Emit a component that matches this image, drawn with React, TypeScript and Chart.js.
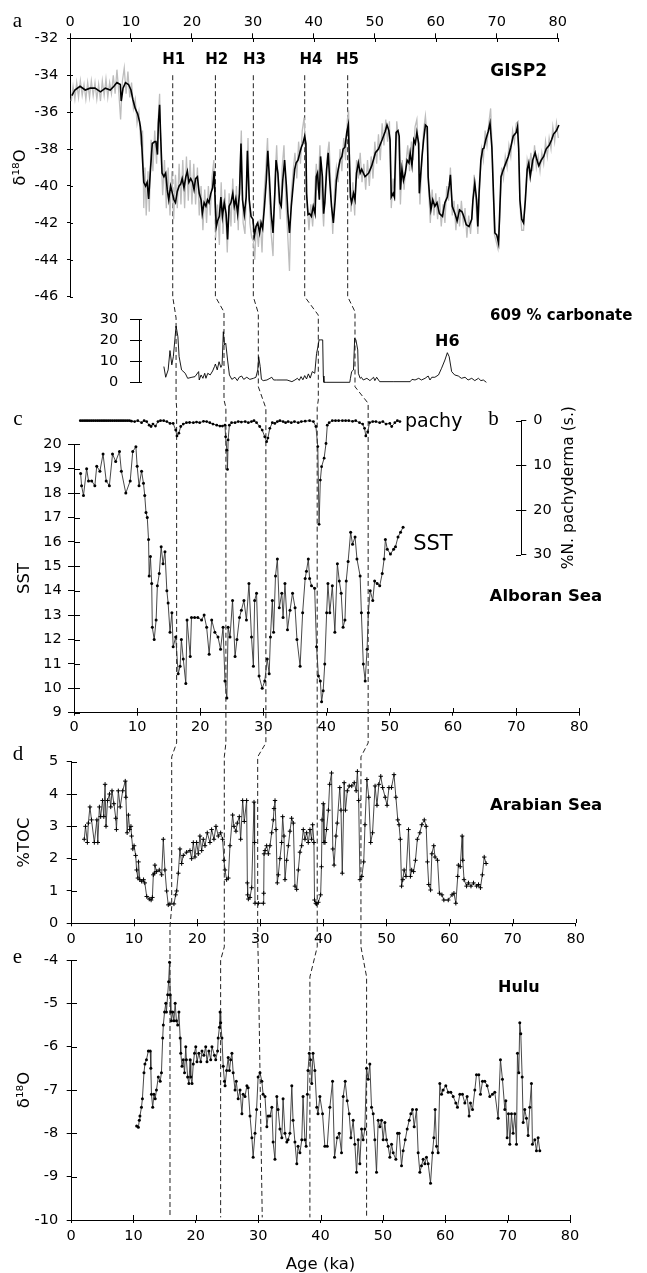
import React, { useEffect, useRef } from "react";
import { Chart, registerables } from "chart.js";

Chart.register(...registerables);

const FONT = "'DejaVu Sans', 'Liberation Sans', sans-serif";
const SERIF = "'Liberation Serif', 'DejaVu Serif', serif";

// ---------- tick labels ----------
const ageTicks = [0, 10, 20, 30, 40, 50, 60, 70, 80];
const gispTicks = [-46, -44, -42, -40, -38, -36, -34, -32];
const carbTicks = [0, 10, 20, 30];
const sstTicks = [9, 10, 11, 12, 13, 14, 15, 16, 17, 18, 19, 20];
const pachyTicks = [0, 10, 20, 30];
const tocTicks = [0, 1, 2, 3, 4, 5];
const huluTicks = [-10, -9, -8, -7, -6, -5, -4];

// ---------- GISP2 d18O (age ka, permil) ----------
const gisp2Smooth: [number, number][] = [
  [0.3,-35.1],[0.8,-34.8],[1.65,-34.6],[2.5,-34.8],[3.3,-34.7],[4.1,-34.7],[5.0,-34.9],[5.8,-34.7],[6.6,-34.8],[7.2,-34.6],[7.7,-34.4],[8.25,-34.5],[8.4,-35.4],[8.7,-34.7],[9.1,-34.4],[9.6,-34.5],[10.0,-34.8],[10.3,-35.3],[10.7,-35.8],[11.1,-36.1],[11.4,-36.5],[11.55,-36.8],[11.7,-37.3],[11.9,-38.6],[12.1,-39.8],[12.4,-40.0],[12.65,-39.8],[12.9,-40.7],[13.2,-39.1],[13.5,-37.7],[13.9,-37.6],[14.1,-37.6],[14.35,-38.3],[14.5,-36.6],[14.7,-35.6],[14.85,-37.1],[15.1,-39.3],[15.4,-39.5],[15.7,-39.3],[15.95,-40.2],[16.2,-40.75],[16.5,-40.0],[16.8,-40.4],[17.05,-40.75],[17.3,-40.9],[17.6,-40.3],[17.9,-40.0],[18.15,-39.9],[18.4,-39.6],[18.7,-40.1],[19.0,-39.5],[19.25,-39.2],[19.5,-39.8],[19.8,-39.6],[20.1,-39.8],[20.35,-40.2],[20.6,-39.6],[20.9,-39.5],[21.2,-40.4],[21.5,-40.75],[21.7,-41.5],[22.0,-40.9],[22.3,-41.1],[22.55,-40.75],[22.8,-40.9],[23.1,-40.4],[23.4,-40.1],[23.65,-39.2],[23.8,-40.75],[24.0,-42.2],[24.2,-41.9],[24.5,-41.65],[24.75,-40.6],[25.0,-41.65],[25.3,-40.9],[25.6,-41.5],[25.85,-42.9],[26.1,-41.1],[26.4,-40.9],[26.7,-40.4],[26.95,-41.1],[27.2,-40.7],[27.5,-41.5],[27.8,-40.4],[28.05,-37.7],[28.3,-40.75],[28.6,-41.55],[28.9,-40.6],[29.1,-38.1],[29.4,-40.75],[29.7,-41.65],[30.0,-41.8],[30.25,-42.7],[30.5,-42.2],[30.8,-42.0],[31.1,-42.55],[31.35,-42.0],[31.6,-42.3],[31.9,-41.1],[32.2,-39.7],[32.45,-38.1],[32.7,-39.5],[33.0,-41.5],[33.3,-42.55],[33.6,-40.4],[33.8,-38.6],[34.1,-39.3],[34.4,-40.9],[34.65,-41.1],[34.9,-39.7],[35.2,-38.6],[35.5,-40.0],[35.75,-41.5],[36.0,-42.55],[36.3,-41.1],[36.6,-40.0],[36.85,-39.1],[37.1,-38.75],[37.4,-38.6],[37.7,-38.2],[37.95,-37.9],[38.2,-37.7],[38.5,-37.3],[38.7,-37.7],[38.8,-40.4],[39.05,-41.55],[39.3,-41.5],[39.6,-41.65],[39.9,-41.1],[40.2,-41.5],[40.4,-39.5],[40.6,-39.3],[40.9,-40.75],[41.1,-38.4],[41.4,-39.5],[41.6,-41.5],[41.8,-40.9],[42.1,-39.1],[42.35,-38.2],[42.6,-39.7],[42.9,-41.1],[43.2,-42.0],[43.5,-40.75],[43.7,-39.7],[44.0,-39.1],[44.3,-38.6],[44.6,-38.4],[44.8,-38.0],[45.1,-37.9],[45.4,-37.1],[45.65,-36.7],[45.8,-38.2],[46.0,-40.6],[46.2,-40.9],[46.5,-40.4],[46.75,-40.75],[47.0,-39.3],[47.3,-38.75],[47.6,-39.3],[47.85,-39.1],[48.4,-39.5],[49.0,-39.3],[49.5,-38.9],[50.1,-38.2],[50.6,-38.0],[51.2,-37.5],[51.7,-37.05],[52.0,-36.7],[52.3,-37.0],[52.5,-37.5],[52.7,-40.6],[53.0,-40.4],[53.2,-40.6],[53.5,-37.1],[53.8,-37.0],[54.0,-37.3],[54.2,-40.2],[54.45,-39.1],[54.7,-39.7],[55.0,-39.3],[55.3,-38.6],[55.6,-38.75],[55.8,-38.2],[56.1,-38.9],[56.4,-37.5],[56.65,-37.7],[56.9,-37.1],[57.2,-37.7],[57.3,-40.4],[57.5,-39.5],[57.75,-38.4],[58.0,-37.5],[58.3,-36.7],[58.6,-36.8],[58.75,-39.5],[59.0,-40.6],[59.2,-41.3],[59.5,-40.75],[59.85,-41.1],[60.2,-40.9],[60.6,-41.5],[61.1,-41.65],[61.5,-40.9],[61.9,-40.6],[62.2,-40.0],[62.4,-39.4],[62.7,-41.1],[63.15,-41.5],[63.5,-41.9],[63.9,-41.3],[64.3,-41.4],[64.6,-41.65],[65.0,-42.1],[65.45,-42.2],[65.9,-41.8],[66.1,-40.75],[66.4,-39.85],[66.7,-40.75],[66.9,-42.2],[67.1,-40.4],[67.4,-38.6],[67.7,-38.0],[67.9,-37.95],[68.2,-37.5],[68.6,-37.05],[68.9,-36.6],[69.2,-37.9],[69.5,-40.75],[69.7,-42.55],[70.0,-42.65],[70.3,-43.1],[70.5,-41.3],[70.7,-39.5],[71.1,-39.1],[71.5,-38.75],[71.9,-38.4],[72.3,-37.9],[72.7,-37.3],[73.2,-37.1],[73.4,-36.8],[73.6,-38.0],[73.8,-40.75],[74.1,-41.8],[74.4,-42.0],[74.7,-40.75],[75.0,-39.1],[75.25,-38.75],[75.5,-39.5],[75.9,-38.6],[76.3,-38.2],[76.6,-38.6],[76.9,-38.9],[77.3,-38.6],[77.7,-38.4],[78.1,-38.0],[78.6,-37.8],[79.0,-37.5],[79.3,-37.2],[79.8,-37.0],[80.2,-36.7],[80.6,-36.9],[81.0,-37.0],[81.3,-36.7],[81.7,-36.6],[82.0,-37.0],[82.2,-36.4],[82.6,-36.3]
];

const gisp2Raw: [number, number][] = [
  [0.2,-35.4],[0.5,-34.6],[0.8,-35.3],[1.1,-34.4],[1.4,-35.2],[1.7,-34.3],[2.0,-35.1],[2.3,-34.5],[2.6,-35.3],[2.9,-34.4],[3.2,-35.2],[3.5,-34.3],[3.8,-35.1],[4.1,-34.4],[4.4,-35.3],[4.7,-34.5],[5.0,-35.4],[5.3,-34.3],[5.6,-35.1],[5.9,-34.2],[6.2,-35.2],[6.5,-34.4],[6.8,-35.0],[7.1,-34.0],[7.4,-35.0],[7.7,-33.7],[8.0,-34.9],[8.3,-36.4],[8.6,-34.3],[8.9,-33.6],[9.2,-35.0],[9.5,-33.8],[9.8,-35.2],[10.1,-34.4],[10.4,-35.8],[10.7,-35.3],[11.0,-36.6],[11.3,-36.0],[11.6,-37.6],[11.9,-37.0],[12.1,-41.2],[12.3,-39.0],[12.5,-41.6],[12.8,-39.2],[13.0,-41.4],[13.3,-37.5],[13.6,-39.2],[13.9,-37.0],[14.2,-38.8],[14.5,-36.2],[14.7,-35.0],[14.9,-38.0],[15.2,-40.5],[15.5,-38.6],[15.8,-41.2],[16.1,-39.0],[16.4,-41.6],[16.7,-39.2],[17.0,-41.8],[17.3,-39.4],[17.6,-41.2],[17.9,-38.8],[18.2,-41.0],[18.5,-38.6],[18.8,-41.2],[19.1,-38.4],[19.4,-40.8],[19.7,-38.6],[20.0,-41.0],[20.3,-38.8],[20.6,-41.0],[20.9,-39.0],[21.2,-41.6],[21.5,-40.0],[21.8,-42.4],[22.1,-40.2],[22.4,-42.0],[22.7,-40.0],[23.0,-41.6],[23.3,-39.5],[23.6,-38.6],[23.9,-42.8],[24.2,-41.0],[24.5,-43.2],[24.8,-39.8],[25.1,-42.6],[25.4,-40.2],[25.8,-43.6],[26.1,-40.4],[26.4,-42.2],[26.7,-39.6],[27.0,-42.0],[27.3,-40.0],[27.6,-42.4],[27.9,-39.0],[28.1,-37.0],[28.4,-42.0],[28.7,-42.6],[29.0,-39.8],[29.2,-37.4],[29.5,-42.0],[29.8,-42.8],[30.1,-43.0],[30.3,-44.0],[30.6,-42.0],[30.9,-43.3],[31.2,-41.8],[31.5,-43.6],[31.8,-40.6],[32.1,-39.2],[32.4,-37.4],[32.7,-40.6],[33.0,-42.6],[33.3,-43.8],[33.6,-39.8],[33.9,-37.8],[34.2,-40.4],[34.5,-41.8],[34.8,-39.0],[35.1,-37.8],[35.4,-40.8],[35.7,-42.6],[36.0,-44.6],[36.3,-40.4],[36.6,-39.2],[36.9,-38.2],[37.2,-39.6],[37.5,-37.6],[37.8,-38.8],[38.1,-37.0],[38.4,-36.3],[38.7,-38.5],[38.9,-41.0],[39.2,-42.4],[39.5,-41.0],[39.8,-42.2],[40.1,-40.6],[40.4,-38.8],[40.7,-40.2],[41.0,-37.8],[41.3,-40.4],[41.6,-42.2],[41.9,-40.0],[42.2,-38.4],[42.5,-37.6],[42.8,-40.2],[43.1,-42.6],[43.4,-40.2],[43.7,-39.0],[44.0,-39.8],[44.3,-38.0],[44.6,-39.2],[44.9,-37.4],[45.2,-38.6],[45.5,-36.4],[45.7,-35.9],[45.9,-39.0],[46.1,-41.4],[46.4,-39.8],[46.7,-41.6],[47.0,-38.6],[47.3,-39.6],[47.6,-38.2],[47.9,-39.8],[48.2,-38.8],[48.5,-40.2],[48.8,-38.6],[49.1,-40.0],[49.4,-38.4],[49.7,-39.6],[50.0,-37.6],[50.3,-38.8],[50.6,-37.2],[50.9,-38.6],[51.2,-36.6],[51.5,-37.8],[51.8,-36.4],[52.1,-37.6],[52.4,-36.5],[52.7,-41.2],[53.0,-39.6],[53.3,-40.8],[53.6,-36.5],[53.9,-37.6],[54.2,-41.0],[54.5,-38.6],[54.8,-40.2],[55.1,-38.8],[55.4,-37.8],[55.7,-39.2],[56.0,-37.6],[56.3,-38.6],[56.6,-36.8],[56.9,-36.4],[57.2,-38.4],[57.4,-41.0],[57.7,-38.8],[58.0,-37.0],[58.3,-36.2],[58.6,-37.4],[58.8,-40.0],[59.1,-42.0],[59.4,-40.2],[59.7,-41.6],[60.0,-40.4],[60.3,-41.8],[60.6,-40.6],[60.9,-42.2],[61.2,-41.0],[61.5,-42.0],[61.8,-40.0],[62.1,-40.8],[62.4,-39.0],[62.7,-41.6],[63.0,-40.8],[63.3,-42.4],[63.6,-41.0],[63.9,-42.2],[64.2,-40.8],[64.5,-42.0],[64.8,-41.2],[65.1,-42.8],[65.4,-41.6],[65.7,-42.6],[66.0,-41.2],[66.3,-39.4],[66.6,-41.0],[66.9,-42.6],[67.2,-40.0],[67.5,-38.0],[67.8,-38.6],[68.1,-37.0],[68.4,-37.8],[68.7,-36.6],[69.0,-35.8],[69.3,-38.4],[69.6,-42.6],[69.9,-43.0],[70.2,-43.4],[70.5,-41.8],[70.8,-39.0],[71.1,-39.6],[71.4,-38.4],[71.7,-39.0],[72.0,-37.8],[72.3,-38.4],[72.6,-37.0],[72.9,-37.6],[73.2,-36.6],[73.5,-36.5],[73.8,-41.0],[74.1,-42.4],[74.4,-42.4],[74.7,-40.6],[75.0,-38.6],[75.3,-39.2],[75.6,-38.2],[75.9,-39.2],[76.2,-37.8],[76.5,-39.0],[76.8,-38.4],[77.1,-39.2],[77.4,-38.2],[77.7,-38.8],[78.0,-37.6],[78.3,-38.4],[78.6,-37.4],[78.9,-38.0],[79.2,-36.8],[79.5,-37.6],[79.8,-36.6],[80.1,-37.4],[80.4,-36.4],[80.7,-37.4],[81.0,-36.5],[81.3,-37.2],[81.6,-36.0],[81.9,-37.0],[82.2,-35.7],[82.6,-36.6]
];

// ---------- ODP 609 % carbonate ----------
const carbonate: [number, number][] = [
  [15.4,7.5],[15.7,2.4],[16.1,5.9],[16.4,15.1],[16.7,8.3],[16.95,12.2],[17.2,20.2],[17.4,26.8],[17.7,21.7],[17.9,12.2],[18.3,5.9],[18.9,4.3],[19.3,1.9],[20.0,2.4],[20.5,2.7],[21.1,5.1],[21.2,1.1],[21.5,3.5],[21.8,1.9],[22.1,4.3],[22.3,1.9],[22.6,4.3],[23.0,3.5],[23.4,5.4],[23.7,7.5],[23.85,8.7],[24.15,5.9],[24.45,9.8],[24.75,7.1],[24.95,8.3],[25.15,24.1],[25.35,17.8],[25.55,18.6],[25.85,10.6],[26.15,3.5],[26.55,1.4],[27.05,2.4],[27.45,0.8],[27.75,2.4],[28.15,3.0],[28.5,1.4],[29.0,2.4],[29.5,1.4],[30.1,1.9],[30.5,2.4],[30.8,5.9],[30.95,12.2],[31.2,7.5],[31.4,1.4],[31.7,0.8],[32.3,1.1],[32.8,1.9],[33.1,2.4],[33.4,1.1],[33.9,1.1],[35.6,1.1],[36.4,0.3],[36.9,1.1],[37.3,1.9],[37.6,0.9],[37.9,2.7],[38.2,1.2],[38.5,3.2],[38.8,1.6],[39.1,4.0],[39.4,2.0],[39.75,5.1],[40.15,4.3],[40.45,13.8],[40.7,17.3],[40.85,20.2],[41.15,20.2],[41.45,20.2],[41.55,3.0],[41.65,0],[42.15,0],[45.9,0],[46.0,1.9],[46.2,5.1],[46.5,5.9],[46.7,21.0],[46.9,20.2],[47.2,15.4],[47.3,4.3],[47.6,1.9],[47.8,2.4],[48.1,1.1],[48.7,1.9],[49.2,0.8],[49.8,2.4],[50.0,0.8],[50.3,2.4],[50.8,0.3],[53.0,0.3],[55.8,0.3],[56.1,1.4],[56.6,1.1],[57.2,1.9],[57.65,1.1],[58.25,1.9],[58.75,3.0],[59.05,1.1],[59.35,2.4],[59.85,2.4],[60.45,3.5],[60.95,6.7],[61.5,10.6],[61.9,14.1],[62.2,12.2],[62.6,5.1],[63.1,3.5],[63.7,3.0],[64.2,1.9],[64.8,2.4],[65.3,1.1],[65.9,1.9],[66.4,0.8],[67.0,1.9],[67.4,0.8],[67.8,1.1],[68.3,0]
];

// ---------- Alboran Sea: % N. pachyderma (s.) ----------
const pachy: [number, number][] = [
  [1.0,0],[1.3,0],[1.6,0],[1.9,0],[2.2,0],[2.5,0],[2.8,0],[3.1,0],[3.4,0],[3.7,0],[4.0,0],[4.3,0],[4.6,0],[4.9,0],[5.2,0],[5.5,0],[5.8,0],[6.1,0],[6.4,0],[6.7,0],[7.0,0],[7.3,0],[7.6,0],[7.9,0],[8.2,0],[8.5,0],[8.8,0],[9.1,0.1],[9.6,0.2],[10.1,0],[10.7,0.45],[11.1,0],[11.5,0.2],[11.9,1.0],[12.2,1.3],[12.5,0.75],[12.9,1.2],[13.3,0.2],[13.7,0],[14.2,0],[14.7,0.2],[15.2,0.6],[15.7,0.6],[16.1,2.1],[16.3,3.4],[16.6,2.8],[16.9,1.3],[17.3,0.75],[17.8,0.45],[18.3,0.4],[18.9,0.45],[19.4,0.3],[19.9,0.45],[20.5,0.15],[21.0,0.2],[21.5,0.45],[22.0,0.75],[22.6,1.0],[23.1,1.2],[23.5,1.2],[23.9,1.0],[24.0,3.6],[24.2,6.6],[24.3,10.9],[24.4,4.3],[24.6,1.0],[24.95,0.45],[25.5,0.45],[26.0,0.2],[26.5,0.3],[27.1,0.2],[27.6,0.45],[28.1,0.2],[28.5,0],[28.9,0.45],[29.4,1.3],[29.8,2.1],[30.2,3.6],[30.5,4.7],[30.7,3.9],[31.0,1.7],[31.4,0.45],[31.8,0.6],[32.2,0.2],[32.6,0],[33.1,0.2],[33.5,0.45],[33.9,0.2],[34.4,0.45],[34.9,0.2],[35.5,0.45],[36.0,0.2],[36.6,0.1],[37.3,0],[37.9,0.2],[38.3,1.3],[38.6,5.8],[38.8,23.2],[39.0,13.3],[39.2,10.3],[39.6,8.4],[39.9,5.1],[40.1,1.0],[40.4,0.45],[40.9,0],[41.4,0],[41.9,0],[42.5,0],[43.0,0],[43.5,0],[44.1,0.15],[44.6,0],[45.2,0.45],[45.7,0.75],[46.0,1.7],[46.2,3.4],[46.5,2.5],[46.8,0.45],[47.3,0.2],[47.8,0.2],[48.4,0.45],[48.9,0.2],[49.4,0.75],[50.0,0.6],[50.3,1.3],[50.8,0.45],[51.2,0],[51.6,0.2]
];

// ---------- Alboran Sea: SST ----------
const sst: [number, number][] = [
  [1.05,18.8],[1.2,18.3],[1.5,17.9],[2.0,19.0],[2.3,18.5],[2.8,18.5],[3.3,18.3],[3.6,19.1],[4.1,18.9],[4.6,19.6],[5.1,18.5],[5.6,18.3],[6.1,19.6],[6.6,19.3],[7.2,19.7],[7.5,18.9],[8.2,18.0],[8.9,18.5],[9.3,19.7],[9.8,19.9],[10.0,19.1],[10.3,18.3],[10.7,18.9],[11.0,18.4],[11.2,17.9],[11.4,17.2],[11.6,17.0],[11.8,16.1],[11.9,14.6],[12.1,15.4],[12.3,14.3],[12.4,12.5],[12.7,12.0],[13.0,12.8],[13.2,14.2],[13.5,14.7],[13.8,15.8],[14.1,15.1],[14.4,15.6],[14.7,14.0],[14.9,13.5],[15.2,12.3],[15.5,13.1],[15.7,11.7],[16.1,12.1],[16.5,10.6],[16.8,10.9],[17.0,12.0],[17.3,11.2],[17.7,10.2],[17.9,12.8],[18.4,11.3],[18.6,12.9],[19.1,12.9],[19.6,12.9],[20.2,12.8],[20.6,13.0],[21.0,12.5],[21.4,11.4],[21.8,12.8],[22.3,12.3],[22.8,12.1],[23.2,11.6],[23.6,12.5],[23.9,10.3],[24.2,9.6],[24.4,12.5],[24.7,12.1],[25.1,13.6],[25.5,11.3],[25.8,12.0],[26.2,12.9],[26.5,13.2],[26.9,13.6],[27.3,12.8],[27.7,14.3],[28.1,12.1],[28.4,10.9],[28.6,13.6],[28.9,13.9],[29.3,10.5],[29.8,10.0],[30.2,10.3],[30.6,11.2],[30.9,10.6],[31.1,12.1],[31.4,13.6],[31.6,12.3],[31.9,14.6],[32.2,15.3],[32.5,13.3],[32.9,13.9],[33.1,12.9],[33.4,14.3],[33.8,12.4],[34.2,13.2],[34.6,13.9],[35.0,13.3],[35.3,12.0],[35.8,10.9],[36.2,13.1],[36.6,14.5],[36.8,14.8],[37.1,15.3],[37.3,14.5],[37.6,14.2],[38.1,14.1],[38.4,11.7],[38.7,10.5],[39.0,10.3],[39.2,9.45],[39.45,9.9],[39.7,11.0],[40.0,13.1],[40.2,14.3],[40.5,13.1],[40.9,14.2],[41.3,12.3],[41.7,15.1],[42.0,14.4],[42.3,13.9],[42.6,12.5],[42.9,12.8],[43.1,14.4],[43.4,15.2],[43.8,16.4],[44.1,15.9],[44.5,16.2],[44.8,15.3],[45.3,14.6],[45.5,13.1],[45.8,11.0],[46.1,10.3],[46.4,11.6],[46.6,13.1],[46.9,14.0],[47.3,13.6],[47.6,14.4],[48.0,14.3],[48.4,14.2],[48.8,14.7],[49.1,15.3],[49.3,16.1],[49.6,15.7],[50.1,15.5],[50.6,15.7],[50.9,15.8],[51.3,16.2],[51.7,16.4],[52.1,16.6]
];

// ---------- Arabian Sea %TOC ----------
const toc: [number, number][] = [
  [2.1,2.6],[2.3,3.0],[2.6,2.5],[2.75,3.1],[3.0,3.6],[3.25,3.2],[3.7,2.5],[4.1,3.2],[4.25,2.5],[4.5,3.6],[4.7,3.3],[5.0,3.8],[5.2,3.3],[5.4,4.3],[5.55,3.0],[5.8,3.8],[6.1,4.0],[6.3,3.6],[6.5,4.1],[6.8,3.7],[7.1,3.25],[7.2,2.9],[7.5,4.1],[7.8,3.6],[8.2,4.1],[8.6,4.4],[8.7,3.9],[8.9,2.8],[9.1,3.35],[9.3,2.9],[9.5,3.0],[9.6,2.7],[9.8,2.3],[10.0,2.4],[10.25,2.1],[10.4,1.65],[10.6,1.4],[10.7,1.9],[10.9,1.35],[11.2,1.3],[11.5,1.35],[11.7,1.25],[12.0,0.83],[12.4,0.75],[12.7,0.72],[12.9,0.8],[13.05,1.5],[13.2,1.55],[13.3,1.8],[13.57,1.6],[13.99,1.65],[14.37,1.5],[14.63,2.6],[14.89,1.65],[15.16,1.0],[15.42,0.57],[15.68,0.6],[16.32,0.6],[16.59,0.88],[16.75,1.0],[17.01,1.55],[17.27,2.3],[17.54,1.85],[17.8,2.1],[18.33,2.2],[18.86,2.25],[19.12,2.0],[19.39,2.5],[19.65,2.05],[19.91,2.5],[20.18,2.15],[20.44,2.7],[20.71,2.25],[20.97,2.6],[21.24,2.4],[21.6,2.8],[22.03,2.5],[22.29,2.9],[22.66,2.6],[22.98,3.0],[23.35,2.7],[23.72,2.8],[24.03,2.6],[24.25,1.95],[24.41,1.65],[24.67,1.35],[24.94,1.4],[25.2,2.4],[25.62,3.35],[25.83,3.0],[26.15,2.85],[26.36,3.1],[26.68,3.3],[26.89,2.6],[27.21,3.8],[27.47,3.15],[27.84,3.8],[27.95,1.25],[28.0,0.88],[28.11,0.75],[28.37,0.8],[28.64,1.1],[29.01,3.75],[29.1,2.5],[29.17,0.62],[29.7,0.62],[30.49,0.62],[30.55,0.93],[30.6,2.15],[30.75,2.25],[31.01,2.4],[31.28,2.15],[31.54,2.4],[31.81,2.8],[32.07,3.2],[32.18,3.55],[32.34,3.8],[32.5,2.9],[32.7,1.25],[32.86,1.5],[33.12,2.0],[33.39,2.5],[33.55,3.3],[33.76,2.7],[33.92,1.35],[34.18,1.95],[34.45,2.4],[34.71,2.85],[34.97,3.25],[35.24,3.1],[35.5,1.15],[35.77,1.05],[36.03,1.65],[36.29,2.2],[36.56,2.4],[36.82,2.9],[37.09,2.6],[37.35,2.8],[37.61,2.5],[37.88,2.9],[38.14,2.6],[38.3,3.05],[38.51,2.5],[38.6,0.72],[38.8,0.62],[38.93,0.6],[39.2,0.65],[39.57,0.88],[39.7,1.75],[39.8,3.2],[39.99,3.7],[40.1,2.5],[40.26,2.5],[40.5,2.9],[40.8,3.5],[41.0,4.3],[41.3,4.65],[41.5,2.3],[41.7,1.8],[42.0,2.7],[42.2,3.1],[42.6,4.2],[42.8,3.5],[43.0,1.55],[43.3,4.35],[43.5,3.5],[43.8,4.1],[44.1,4.25],[44.5,4.25],[44.9,4.35],[45.2,4.1],[45.4,4.7],[45.6,3.8],[45.8,1.35],[46.1,1.45],[46.4,1.9],[46.6,3.05],[46.9,4.45],[47.2,3.9],[47.5,2.5],[47.8,2.8],[48.2,4.25],[48.5,3.65],[48.8,4.3],[49.1,4.55],[49.4,4.2],[49.8,3.9],[50.1,3.65],[50.4,4.2],[50.8,4.2],[51.2,4.6],[51.5,3.9],[51.8,3.2],[52.0,3.05],[52.2,2.6],[52.4,1.15],[52.6,1.35],[52.8,1.65],[53.1,1.45],[53.5,2.9],[53.8,1.45],[54.0,1.65],[54.3,1.6],[54.6,1.95],[54.9,2.6],[55.3,2.8],[55.6,3.05],[56.0,3.2],[56.3,3.0],[56.5,1.9],[56.7,1.2],[57.0,1.03],[57.2,2.15],[57.5,2.4],[57.7,2.05],[58.1,1.95],[58.4,0.93],[58.8,0.88],[59.1,0.72],[59.8,0.72],[60.4,0.88],[60.7,0.93],[61.0,0.62],[61.3,1.45],[61.4,1.8],[61.7,1.75],[62.0,2.7],[62.1,1.95],[62.3,1.35],[62.7,1.15],[63.0,1.25],[63.4,1.15],[63.8,1.25],[64.3,1.15],[64.6,1.2],[64.9,1.1],[65.2,1.5],[65.5,2.05],[65.8,1.85]
];

// ---------- Hulu Cave d18O ----------
const hulu: [number, number][] = [
  [10.52,-7.83],[10.8,-7.86],[10.95,-7.7],[11.05,-7.6],[11.3,-7.4],[11.45,-7.2],[11.7,-6.6],[11.85,-6.4],[12.1,-6.3],[12.4,-6.1],[12.7,-6.1],[12.8,-6.5],[12.9,-7.1],[13.1,-7.4],[13.3,-7.1],[13.5,-7.2],[13.7,-7.0],[14.0,-6.7],[14.3,-6.8],[14.5,-6.6],[14.7,-5.8],[14.8,-5.5],[15.0,-5.2],[15.2,-5.0],[15.3,-5.2],[15.5,-4.8],[15.65,-4.5],[15.8,-4.05],[15.9,-4.8],[16.0,-5.2],[16.1,-5.4],[16.3,-5.2],[16.5,-5.4],[16.7,-5.0],[16.9,-5.4],[17.1,-5.5],[17.3,-5.2],[17.5,-5.8],[17.6,-6.15],[17.8,-6.45],[18.0,-6.3],[18.2,-6.6],[18.4,-6.0],[18.5,-6.3],[18.7,-6.7],[18.9,-6.85],[19.1,-6.3],[19.2,-6.7],[19.4,-6.85],[19.6,-6.4],[19.8,-6.15],[20.0,-6.0],[20.2,-6.35],[20.5,-6.15],[20.8,-6.35],[21.0,-6.1],[21.3,-6.2],[21.6,-6.0],[21.8,-6.35],[22.1,-6.1],[22.4,-6.3],[22.6,-6.0],[23.0,-6.2],[23.2,-6.3],[23.5,-6.1],[23.6,-5.8],[23.8,-5.55],[23.9,-5.2],[24.0,-5.45],[24.2,-5.8],[24.4,-6.45],[24.6,-6.8],[24.7,-6.9],[24.95,-6.55],[25.2,-6.25],[25.4,-6.55],[25.6,-6.3],[25.8,-6.15],[26.0,-6.6],[26.3,-7.0],[26.5,-6.8],[26.8,-7.2],[27.1,-7.0],[27.4,-7.55],[27.6,-7.1],[27.9,-7.15],[28.2,-6.9],[28.4,-6.95],[28.7,-7.6],[29.0,-8.1],[29.2,-8.55],[29.5,-8.0],[29.75,-7.45],[30.0,-6.7],[30.3,-6.6],[30.6,-6.8],[30.8,-7.1],[31.1,-7.15],[31.4,-7.85],[31.6,-7.6],[31.9,-7.6],[32.2,-7.4],[32.4,-8.2],[32.7,-8.6],[33.0,-7.15],[33.2,-7.45],[33.5,-7.9],[33.8,-8.1],[34.0,-7.2],[34.3,-8.0],[34.6,-8.2],[34.8,-8.15],[35.1,-8.0],[35.4,-6.9],[35.6,-7.7],[35.9,-8.2],[36.2,-8.7],[36.4,-8.3],[36.7,-8.45],[37.0,-8.15],[37.2,-7.15],[37.5,-8.15],[37.7,-8.3],[37.9,-7.1],[38.0,-6.55],[38.2,-6.15],[38.4,-6.3],[38.6,-6.85],[38.8,-6.15],[39.1,-6.55],[39.4,-7.4],[39.6,-7.55],[39.9,-7.15],[40.33,-7.55],[40.7,-8.3],[41.08,-8.3],[41.5,-7.4],[41.93,-6.8],[42.25,-8.55],[42.68,-8.1],[43.0,-8.0],[43.37,-8.45],[43.64,-7.15],[43.96,-6.8],[44.28,-7.25],[44.6,-7.55],[44.87,-8.1],[45.24,-7.7],[45.51,-8.25],[45.78,-8.9],[46.04,-8.15],[46.31,-8.7],[46.58,-7.9],[46.84,-8.15],[47.11,-7.9],[47.38,-6.5],[47.65,-6.75],[47.91,-6.4],[48.18,-7.4],[48.45,-7.55],[48.71,-8.15],[48.98,-8.9],[49.25,-7.7],[49.52,-7.85],[49.78,-7.7],[50.05,-8.15],[50.32,-7.75],[50.58,-8.15],[50.85,-8.3],[51.12,-8.55],[51.39,-8.25],[51.65,-8.45],[52.08,-8.6],[52.35,-8.0],[52.61,-8.0],[52.99,-8.75],[53.25,-8.4],[53.58,-8.15],[53.9,-7.9],[54.22,-7.7],[54.48,-7.55],[54.75,-7.45],[55.02,-7.85],[55.39,-7.45],[55.66,-8.45],[55.93,-8.9],[56.19,-8.75],[56.46,-8.6],[56.73,-8.7],[56.99,-8.55],[57.26,-8.7],[57.64,-9.15],[57.96,-8.45],[58.17,-8.1],[58.38,-7.45],[58.6,-8.3],[58.86,-8.45],[59.13,-6.85],[59.4,-7.1],[59.67,-7.0],[60.09,-6.9],[60.47,-7.05],[60.89,-7.05],[61.27,-7.15],[61.69,-7.3],[61.96,-7.4],[62.34,-7.1],[62.76,-7.1],[63.14,-7.3],[63.51,-7.15],[63.83,-7.6],[64.05,-7.3],[64.37,-7.45],[64.74,-7.0],[65.01,-6.65],[65.38,-6.65],[65.65,-7.1],[65.97,-6.8],[66.34,-6.8],[66.72,-6.9],[67.14,-7.15],[67.57,-7.1],[67.94,-7.05],[68.48,-7.65],[68.85,-6.3],[69.17,-6.75],[69.55,-7.45],[69.71,-7.25],[69.92,-8.1],[70.14,-7.55],[70.35,-8.25],[70.62,-7.55],[70.88,-8.0],[71.15,-7.55],[71.42,-8.25],[71.58,-6.15],[71.79,-6.6],[71.95,-5.45],[72.11,-5.7],[72.33,-6.7],[72.49,-7.75],[72.75,-7.45],[73.02,-7.65],[73.29,-8.05],[73.55,-7.4],[73.82,-6.85],[73.98,-8.25],[74.36,-8.15],[74.62,-8.4],[74.89,-8.1],[75.16,-8.4]
];

// ---------- Heinrich-event correlation lines: [xScale, age, yScale, value] ----------
type V = [string, number, string, number];
const heinrichLines: V[][] = [
  [["xA",16.85,"yA",-34],["xA",16.85,"yA",-46],["xA",17.4,"yCarb",30.6],["xA",17.4,"yCarb",-8.4],["xC",16.25,"ySST",21.5],["xC",16.25,"ySST",7.76],["xD",15.96,"yTOC",5.15],["xD",15.96,"yTOC",0.51],["xE",15.87,"yHulu",-3.23],["xE",15.87,"yHulu",-9.94]],
  [["xA",23.85,"yA",-34],["xA",23.85,"yA",-46],["xA",25.26,"yCarb",33.5],["xA",25.26,"yCarb",-8.4],["xC",24.05,"ySST",21.5],["xC",24.05,"ySST",7.76],["xD",24.3,"yTOC",5.15],["xD",24.3,"yTOC",-0.73],["xE",23.99,"yHulu",-4.0],["xE",23.99,"yHulu",-9.94]],
  [["xA",30.07,"yA",-34],["xA",30.07,"yA",-46],["xA",30.89,"yCarb",32.9],["xA",30.89,"yCarb",-2.1],["xC",30.38,"ySST",21.48],["xC",30.38,"ySST",7.76],["xD",29.59,"yTOC",5.15],["xD",29.59,"yTOC",-0.5],["xE",30.02,"yHulu",-4.0],["xE",30.66,"yHulu",-9.94]],
  [["xA",38.5,"yA",-34],["xA",38.5,"yA",-46],["xA",40.73,"yCarb",32.0],["xA",40.73,"yCarb",-8.4],["xC",38.5,"ySST",21.5],["xC",38.5,"ySST",7.76],["xD",39.03,"yTOC",5.15],["xD",39.03,"yTOC",-0.73],["xE",38.3,"yHulu",-4.39],["xE",38.3,"yHulu",-9.94]],
  [["xA",45.55,"yA",-34],["xA",45.55,"yA",-46],["xA",46.75,"yCarb",33.6],["xA",46.75,"yCarb",-2.1],["xC",46.57,"ySST",21.68],["xC",46.57,"ySST",7.76],["xD",45.96,"yTOC",5.15],["xD",45.96,"yTOC",-0.73],["xE",47.39,"yHulu",-4.39],["xE",47.39,"yHulu",-9.94]],
];

// ---------- text annotations in data coordinates ----------
const annotations = [
  { text: "H1", xs: "xA", x: 17.0, ys: "yA", y: -33.16, font: `bold 15px ${FONT}`, align: "center" },
  { text: "H2", xs: "xA", x: 24.06, ys: "yA", y: -33.16, font: `bold 15px ${FONT}`, align: "center" },
  { text: "H3", xs: "xA", x: 30.27, ys: "yA", y: -33.16, font: `bold 15px ${FONT}`, align: "center" },
  { text: "H4", xs: "xA", x: 39.53, ys: "yA", y: -33.16, font: `bold 15px ${FONT}`, align: "center" },
  { text: "H5", xs: "xA", x: 45.52, ys: "yA", y: -33.16, font: `bold 15px ${FONT}`, align: "center" },
  { text: "GISP2", xs: "xA", x: 73.6, ys: "yA", y: -33.83, font: `bold 17px ${FONT}`, align: "center" },
  { text: "609 % carbonate", xs: "xA", x: 68.9, ys: "yCarb", y: 31.6, font: `bold 15px ${FONT}`, align: "left" },
  { text: "H6", xs: "xA", x: 61.9, ys: "yCarb", y: 19.3, font: `bold 16px ${FONT}`, align: "center" },
  { text: "pachy", xs: "xC", x: 52.4, ys: "yPachy", y: 0.36, font: `19px ${FONT}`, align: "left" },
  { text: "SST", xs: "xC", x: 53.7, ys: "ySST", y: 15.9, font: `21px ${FONT}`, align: "left" },
  { text: "Alboran Sea", xs: "xC", x: 65.8, ys: "ySST", y: 13.74, font: `bold 16.5px ${FONT}`, align: "left" },
  { text: "Arabian Sea", xs: "xD", x: 66.4, ys: "yTOC", y: 3.65, font: `bold 16.5px ${FONT}`, align: "left" },
  { text: "Hulu", xs: "xE", x: 71.8, ys: "yHulu", y: -4.64, font: `bold 16px ${FONT}`, align: "center" },
];

// ---------- layout (pixel boxes of each axis) ----------
const GEOM: Record<string, { left: number; right: number; top: number; bottom: number; inner: number }> = {
  xA: { left: 70, right: 557.7, top: 0, bottom: 38.3, inner: 4 },
  yA: { left: 10.8, right: 70, top: 38.3, bottom: 296.7, inner: 3 },
  yCarb: { left: 100, right: 139, top: 319.3, bottom: 382.3, inner: 3 },
  xC: { left: 74, right: 579.3, top: 712.7, bottom: 740, inner: 5 },
  ySST: { left: 14.8, right: 74, top: 444.3, bottom: 712.7, inner: 6 },
  yPachy: { left: 521.3, right: 600, top: 420.7, bottom: 554.7, inner: 5 },
  xD: { left: 71, right: 575.7, top: 923.3, bottom: 950, inner: 4 },
  yTOC: { left: 14.8, right: 71.7, top: 761.7, bottom: 923.3, inner: 5 },
  xE: { left: 71, right: 570, top: 1220, bottom: 1274.2, inner: 5 },
  yHulu: { left: 14.8, right: 71.7, top: 960, bottom: 1220, inner: 5 },
};

const panelLetters = [
  { text: "a", x: 12.7, y: 26.7 },
  { text: "c", x: 13.3, y: 425 },
  { text: "b", x: 488.3, y: 425 },
  { text: "d", x: 12.7, y: 760 },
  { text: "e", x: 12.7, y: 963.3 },
];

const toXY = (arr: [number, number][]) => arr.map(([x, y]) => ({ x, y }));

const tickFont = { family: FONT, size: 14.5, lineHeight: 1.2 };
const titleFont = { family: FONT, size: 16.5, lineHeight: 1.2 };

function axis(position: string, min: number, max: number, ticks: number[], tl: number, pad: number, title?: string, reverse = false) {
  const horizontal = position === "top" || position === "bottom";
  return {
    type: "linear",
    position,
    min,
    max,
    reverse,
    afterBuildTicks: (s: any) => {
      s.ticks = ticks.map((v) => ({ value: v }));
    },
    afterFit: (s: any) => {
      if (horizontal) s.height = 0;
      else s.width = 0;
    },
    grid: { drawOnChartArea: false, drawTicks: true, tickLength: tl, color: "#000", lineWidth: 1 },
    border: { display: true, color: "#000", width: 1 },
    ticks: { padding: pad, color: "#000", font: tickFont, autoSkip: false, maxRotation: 0, minRotation: 0 },
    title: title
      ? { display: true, text: title, color: "#000", font: titleFont, padding: 0 }
      : { display: false },
  };
}

const panelPlugin = {
  id: "panelPlugin",
  afterLayout(chart: any) {
    for (const id of Object.keys(GEOM)) {
      const s = chart.scales[id];
      if (!s) continue;
      const g = GEOM[id];
      s.left = g.left;
      s.right = g.right;
      s.top = g.top;
      s.bottom = g.bottom;
      s.width = g.right - g.left;
      s.height = g.bottom - g.top;
      s.configure();
    }
  },
  beforeDatasetsDraw(chart: any) {
    const ctx = chart.ctx;
    ctx.save();
    ctx.setLineDash([5, 3]);
    ctx.strokeStyle = "#222";
    ctx.lineWidth = 1;
    for (const line of heinrichLines) {
      ctx.beginPath();
      line.forEach(([xs, xv, ys, yv], i) => {
        const px = chart.scales[xs].getPixelForValue(xv);
        const py = chart.scales[ys].getPixelForValue(yv);
        if (i === 0) ctx.moveTo(px, py);
        else ctx.lineTo(px, py);
      });
      ctx.stroke();
    }
    ctx.restore();
  },
  afterDraw(chart: any) {
    const ctx = chart.ctx;
    ctx.save();
    // inward half of the crossing tick marks
    ctx.strokeStyle = "#000";
    ctx.lineWidth = 1;
    for (const id of Object.keys(GEOM)) {
      const s = chart.scales[id];
      if (!s) continue;
      const inner = GEOM[id].inner;
      const pos = s.options.position;
      ctx.beginPath();
      for (const t of s.ticks) {
        const p = Math.round(s.getPixelForValue(t.value)) + 0.5;
        if (pos === "left") {
          const x = Math.round(s.right);
          ctx.moveTo(x, p);
          ctx.lineTo(x + inner, p);
        } else if (pos === "right") {
          const x = Math.round(s.left);
          ctx.moveTo(x, p);
          ctx.lineTo(x - inner, p);
        } else if (pos === "top") {
          const y = Math.round(s.bottom);
          ctx.moveTo(p, y);
          ctx.lineTo(p, y + inner);
        } else {
          const y = Math.round(s.top);
          ctx.moveTo(p, y);
          ctx.lineTo(p, y - inner);
        }
      }
      ctx.stroke();
    }
    // data-anchored labels
    ctx.fillStyle = "#000";
    ctx.textBaseline = "middle";
    for (const a of annotations) {
      ctx.font = a.font;
      ctx.textAlign = a.align;
      ctx.fillText(a.text, chart.scales[a.xs].getPixelForValue(a.x), chart.scales[a.ys].getPixelForValue(a.y));
    }
    // pachyderma axis title (reads bottom-to-top)
    const sp = chart.scales.yPachy;
    ctx.save();
    ctx.font = `15.5px ${FONT}`;
    ctx.textAlign = "center";
    ctx.translate(sp.left + 48, (sp.top + sp.bottom) / 2);
    ctx.rotate(-Math.PI / 2);
    ctx.fillText("%N. pachyderma (s.)", 0, 0);
    ctx.restore();
    // panel letters
    ctx.font = `21px ${SERIF}`;
    ctx.textAlign = "left";
    ctx.textBaseline = "alphabetic";
    for (const p of panelLetters) ctx.fillText(p.text, p.x, p.y);
    ctx.restore();
  },
};

export default function App() {
  const ref = useRef<HTMLCanvasElement | null>(null);
  useEffect(() => {
    if (!ref.current) return;
    Chart.defaults.font.family = FONT;
    Chart.defaults.color = "#000";
    const lineBase = { tension: 0, fill: false, clip: false as any, pointHoverRadius: 0 };
    const chart = new Chart(ref.current, {
      type: "line",
      data: {
        datasets: [
          { ...lineBase, label: "GISP2 (smoothed)", data: toXY(gisp2Smooth), xAxisID: "xA", yAxisID: "yA", borderColor: "#000", borderWidth: 1.6, pointRadius: 0, order: 0 },
          { ...lineBase, label: "GISP2", data: toXY(gisp2Raw), xAxisID: "xA", yAxisID: "yA", borderColor: "#bdbdbd", borderWidth: 1.3, pointRadius: 0, order: 1 },
          { ...lineBase, label: "609 % carbonate", data: toXY(carbonate), xAxisID: "xA", yAxisID: "yCarb", borderColor: "#000", borderWidth: 0.9, pointRadius: 0, order: 0 },
          { ...lineBase, label: "pachy", data: toXY(pachy), xAxisID: "xC", yAxisID: "yPachy", borderColor: "#333", borderWidth: 0.9, pointRadius: 1.4, pointBackgroundColor: "#000", pointBorderWidth: 0, order: 0 },
          { ...lineBase, label: "SST", data: toXY(sst), xAxisID: "xC", yAxisID: "ySST", borderColor: "#333", borderWidth: 0.9, pointRadius: 1.5, pointBackgroundColor: "#000", pointBorderWidth: 0, order: 0 },
          { ...lineBase, label: "%TOC", data: toXY(toc), xAxisID: "xD", yAxisID: "yTOC", borderColor: "#333", borderWidth: 0.9, pointStyle: "cross", pointRadius: 2.2, pointBorderColor: "#000", pointBorderWidth: 1, order: 0 },
          { ...lineBase, label: "Hulu", data: toXY(hulu), xAxisID: "xE", yAxisID: "yHulu", borderColor: "#333", borderWidth: 0.9, pointRadius: 1.5, pointBackgroundColor: "#000", pointBorderWidth: 0, order: 0 },
        ] as any,
      },
      options: {
        responsive: false,
        maintainAspectRatio: false,
        devicePixelRatio: 1,
        animation: false,
        events: [],
        layout: { padding: 0 },
        plugins: { legend: { display: false }, tooltip: { enabled: false } },
        scales: {
          xA: axis("top", 0, 80, ageTicks, 5, 2.6),
          yA: axis("left", -46, -32, gispTicks, 3, 8.7, "δ¹⁸O"),
          yCarb: axis("left", 0, 30, carbTicks, 9, 11.7),
          xC: axis("bottom", 0, 80, ageTicks, 3, 3.1),
          ySST: axis("left", 9, 20, sstTicks, 6, 6.3, "SST"),
          yPachy: axis("right", 0, 30, pachyTicks, 5, 7, undefined, true),
          xD: axis("bottom", 0, 80, ageTicks, 3, 4.2),
          yTOC: axis("left", 0, 5, tocTicks, 5, 8.4, "%TOC"),
          xE: axis("bottom", 0, 80, ageTicks, 3, 4.6, "Age (ka)"),
          yHulu: axis("left", -10, -4, huluTicks, 5, 8.4, "δ¹⁸O"),
        } as any,
      },
      plugins: [panelPlugin as any],
    });
    return () => chart.destroy();
  }, []);
  return (
    <div style={{ position: "absolute", left: 0, top: 0, width: 647, height: 1273, background: "#fff" }}>
      <canvas ref={ref} width={647} height={1273} style={{ display: "block", width: 647, height: 1273 }} />
    </div>
  );
}
